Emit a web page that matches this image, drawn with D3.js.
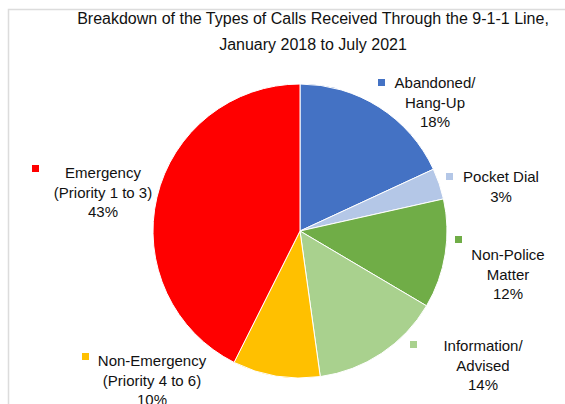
<!DOCTYPE html>
<html>
<head>
<meta charset="utf-8">
<script src="https://cdn.jsdelivr.net/npm/d3@7"></script>
<style>
  body { margin: 0; background: #fff; }
  text { font-family: "Liberation Sans", Arial, sans-serif; fill: #111; }
</style>
</head>
<body>
<div id="chart"></div>
<script>
// data
var categories = ["Abandoned/ Hang-Up", "Pocket Dial", "Non-Police Matter", "Information/ Advised", "Non-Emergency (Priority 4 to 6)", "Emergency (Priority 1 to 3)"]
var values = [18.1, 3.4, 12.0, 14.3, 9.6, 42.6]
var labelLines = [["Abandoned/", "Hang-Up"], ["Pocket Dial"], ["Non-Police", "Matter"], ["Information/", "Advised"], ["Non-Emergency", "(Priority 4 to 6)"], ["Emergency", "(Priority 1 to 3)"]]
var colors = ["#4472C4", "#B4C7E7", "#70AD47", "#A9D18E", "#FFC000", "#FF0000"]

// where each label sits (text centre x, first line y, legend key x/y)
var labelPos = [
  {x: 435, y: 88, kx: 378, ky: 79},
  {x: 501, y: 182, kx: 446, ky: 173},
  {x: 508, y: 260, kx: 455, ky: 236},
  {x: 483, y: 351, kx: 410, ky: 341},
  {x: 152, y: 366, kx: 82, ky: 353},
  {x: 103, y: 178, kx: 32, ky: 165}
]

var width = 565
var height = 404
var radius = 147
var cx = 300, cy = 231

var svg = d3.select("#chart")
  .append("svg")
    .attr("width", width)
    .attr("height", height)

// light chart-area frame
svg.append("rect")
  .attr("x", 8.5).attr("y", 9.5)
  .attr("width", 600).attr("height", 450)
  .attr("fill", "none")
  .attr("stroke", "#dcdcdc")
  .attr("stroke-width", 1.5)

// title
svg.append("text")
  .attr("x", 313).attr("y", 24)
  .attr("text-anchor", "middle")
  .style("font-size", "16px")
  .text("Breakdown of the Types of Calls Received Through the 9-1-1 Line,")
svg.append("text")
  .attr("x", 313).attr("y", 50)
  .attr("text-anchor", "middle")
  .style("font-size", "16px")
  .text("January 2018 to July 2021")

var pie = d3.pie().sort(null).value(function(d) { return d; })
var arcs = pie(values)
var arc = d3.arc().innerRadius(0).outerRadius(radius)

var g = svg.append("g")
  .attr("transform", "translate(" + cx + "," + cy + ")")

g.selectAll("path")
  .data(arcs)
  .enter()
  .append("path")
    .attr("d", arc)
    .attr("fill", function(d, i) { return colors[i] })
    .attr("stroke", "#fff")
    .attr("stroke-width", 1)

// labels
var lab = svg.selectAll("g.lab")
  .data(arcs)
  .enter()
  .append("g")
    .attr("class", "lab")

lab.append("rect")
  .attr("x", function(d, i) { return labelPos[i].kx })
  .attr("y", function(d, i) { return labelPos[i].ky })
  .attr("width", 7).attr("height", 7)
  .attr("fill", function(d, i) { return colors[i] })

lab.append("text")
  .attr("text-anchor", "middle")
  .style("font-size", "15px")
  .each(function(d, i) {
    var lines = labelLines[i].concat([Math.round(values[i]) + "%"])
    var t = d3.select(this)
    lines.forEach(function(l, j) {
      t.append("tspan")
        .attr("x", labelPos[i].x)
        .attr("y", labelPos[i].y + j * 19.5)
        .text(l)
    })
  })
</script>
</body>
</html>
